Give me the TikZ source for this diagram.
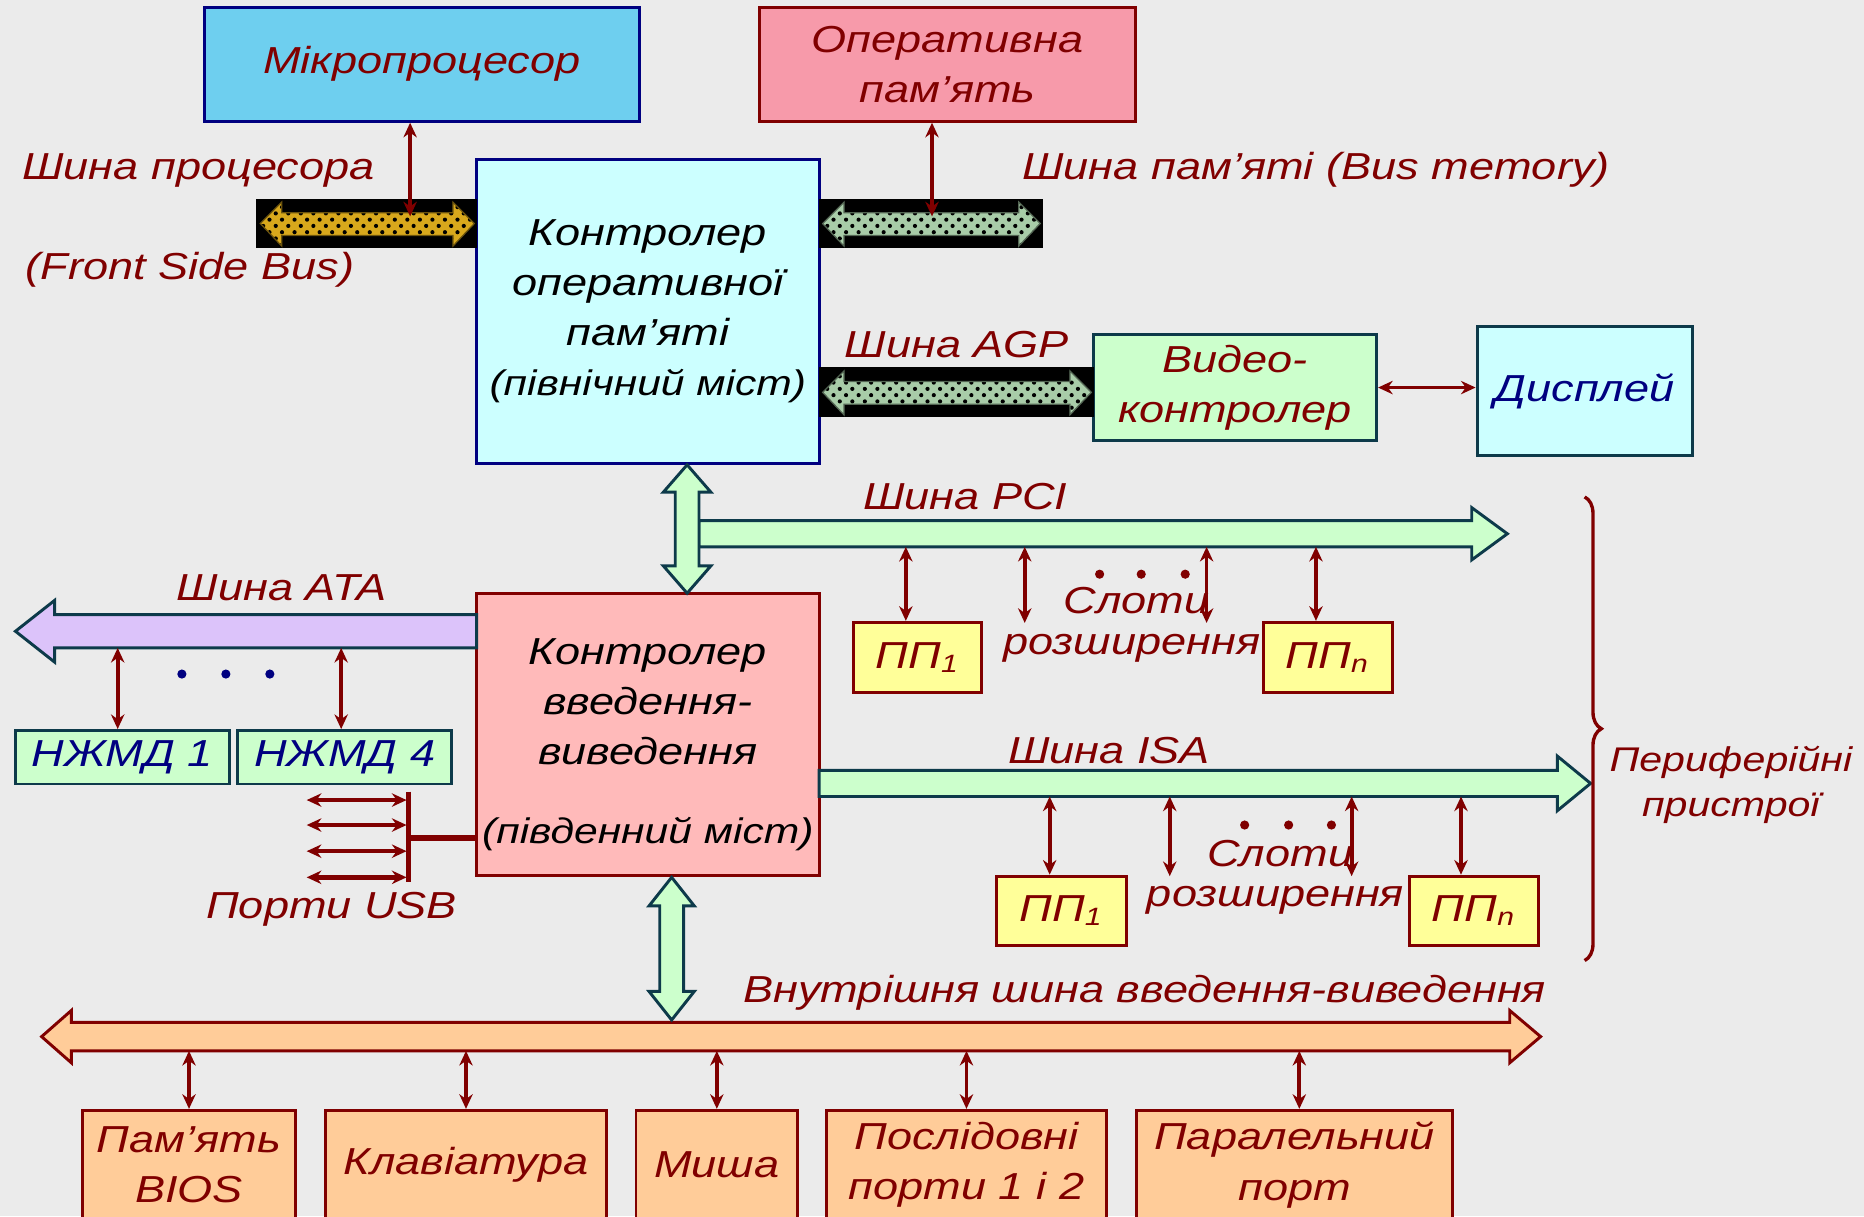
\documentclass[tikz,border=0pt]{standalone}
\usepackage{fontspec}
\setmainfont{Liberation Sans}[FakeStretch=1.2]
\usetikzlibrary{arrows.meta,patterns,decorations.pathreplacing}

\definecolor{bgcol}{HTML}{EBEBEB}
\definecolor{txtred}{HTML}{800000}
\definecolor{navy}{HTML}{000080}
\definecolor{edgeteal}{HTML}{0D3A4A}
\definecolor{cpucol}{HTML}{6ECFEF}
\definecolor{ramcol}{HTML}{F79AAA}
\definecolor{nbcol}{HTML}{CCFFFF}
\definecolor{sbcol}{HTML}{FFBABA}
\definecolor{greencol}{HTML}{CCFFCC}
\definecolor{ppcol}{HTML}{FFFF99}
\definecolor{iocol}{HTML}{FFCC99}
\definecolor{atacol}{HTML}{DCC3FA}
\definecolor{fsbcol}{HTML}{D8A81C}
\definecolor{memcol}{HTML}{A8CCA8}

\tikzset{
  box/.style={draw=txtred, line width=0.7pt, text=txtred, align=center, inner sep=0pt,
    font=\fontsize{9}{12}\selectfont\itshape},
  lbl/.style={text=txtred, align=center, inner sep=0pt, font=\fontsize{9}{11}\selectfont\itshape},
  link/.style={draw=txtred, line width=0.9pt,
    {Stealth[length=3.5pt,width=3.2pt]}-{Stealth[length=3.5pt,width=3.2pt]}},
  fatbus/.style={draw=edgeteal, line width=0.7pt, fill=greencol, line join=miter},
  dotbus/.style={preaction={fill=#1}, pattern=crosshatch dots, pattern color=black,
    draw=#1!50!black, line width=0.3pt},
}

\begin{document}
\begin{tikzpicture}[x=0.1mm, y=-0.1mm]
    % Frame
    \useasboundingbox (0,0) rectangle (1568,1023);
    \clip (0,0) rectangle (1568,1023);
    \fill[bgcol] (0,0) rectangle (1568,1023);

    % Processor and memory
    \node[box, draw=navy, fill=cpucol, minimum width=3.66cm, minimum height=0.96cm] (cpu) at (355,54) {Мікропроцесор};
    \node[box, fill=ramcol, minimum width=3.17cm, minimum height=0.96cm] (ram) at (797,54) {Оперативна\\пам’ять};

    % North bridge
    \node[box, draw=navy, fill=nbcol, text=black, minimum width=2.88cm, minimum height=2.55cm] (nb) at (545,262)
        {Контролер\\оперативної\\пам’яті\\{\fontsize{8.5}{11}\selectfont (північний міст)}};

    % Video
    \node[box, draw=edgeteal, fill=greencol, minimum width=2.38cm, minimum height=0.89cm] (video) at (1039,326) {Видео-\\контролер};
    \node[box, draw=edgeteal, fill=nbcol, text=navy, minimum width=1.81cm, minimum height=1.09cm] (disp) at (1333,329) {Дисплей};

    % South bridge
    \node[box, fill=sbcol, text=black, minimum width=2.88cm, minimum height=2.37cm] (sb) at (545,618)
        {\rule{0pt}{0.39cm}Контролер\\введення-\\виведення\\[0.24cm]{\fontsize{8.5}{11}\selectfont (південний міст)}};

    % Hard disks
    \node[box, draw=edgeteal, fill=greencol, text=navy, minimum width=1.80cm, minimum height=0.45cm] (hdd1) at (103,637) {НЖМД 1};
    \node[box, draw=edgeteal, fill=greencol, text=navy, minimum width=1.80cm, minimum height=0.45cm] (hdd4) at (290,637) {НЖМД 4};

    % Expansion cards
    \node[box, fill=ppcol, minimum width=1.08cm, minimum height=0.59cm] (pci1) at (772,553) {ПП\textsubscript{1}};
    \node[box, fill=ppcol, minimum width=1.08cm, minimum height=0.59cm] (pcin) at (1117,553) {ПП\textsubscript{n}};
    \node[box, fill=ppcol, minimum width=1.09cm, minimum height=0.58cm] (isa1) at (893,766) {ПП\textsubscript{1}};
    \node[box, fill=ppcol, minimum width=1.09cm, minimum height=0.58cm] (isan) at (1240,766) {ПП\textsubscript{n}};

    % Devices on the internal bus
    \node[box, fill=iocol, minimum width=1.79cm, minimum height=0.92cm] (bios) at (159,980) {Пам’ять\\BIOS};
    \node[box, fill=iocol, minimum width=2.37cm, minimum height=0.92cm] (kbd) at (392,980) {Клавіатура};
    \node[box, fill=iocol, minimum width=1.36cm, minimum height=0.92cm] (mouse) at (603,980) {Миша};
    \node[box, fill=iocol, minimum width=2.36cm, minimum height=0.92cm] (serial) at (813,980) {Послідовні\\порти 1 і 2};
    \node[box, fill=iocol, minimum width=2.66cm, minimum height=0.92cm] (par) at (1089,980) {Паралельний\\порт};

    % Processor, memory and AGP buses
    \fill[black] (215,167) rectangle (401,209);
    \path[dotbus=fsbcol] (219,188) -- (237,170) -- (237,179) -- (381,179) -- (381,170) -- (399,188)
        -- (381,207) -- (381,198) -- (237,198) -- (237,207) -- cycle;
    \fill[black] (689,167) rectangle (877,209);
    \path[dotbus=memcol] (692,188) -- (710,170) -- (710,179) -- (857,179) -- (857,170) -- (875,188)
        -- (857,207) -- (857,198) -- (710,198) -- (710,207) -- cycle;
    \fill[black] (689,309) rectangle (920,351);
    \path[dotbus=memcol] (692,330) -- (710,312) -- (710,321) -- (900,321) -- (900,312) -- (918,330)
        -- (900,349) -- (900,340) -- (710,340) -- (710,349) -- cycle;

    % PCI, ISA and ATA buses
    \draw[fatbus] (588,438) -- (1238,438) -- (1238,427) -- (1268,449) -- (1238,471) -- (1238,460) -- (588,460) -- cycle;
    \draw[fatbus] (578,391) -- (598,414) -- (588,414) -- (588,476) -- (598,476) -- (578,499)
        -- (558,476) -- (568,476) -- (568,414) -- (558,414) -- cycle;
    \draw[fatbus] (689,648) -- (1310,648) -- (1310,636) -- (1338,659) -- (1310,682) -- (1310,670) -- (689,670) -- cycle;
    \draw[fatbus, fill=atacol] (401,517) -- (46,517) -- (46,505) -- (13,531) -- (46,557) -- (46,545) -- (401,545) -- cycle;

    % Internal bus
    \draw[fatbus, draw=txtred, fill=iocol] (35,872) -- (60,850) -- (60,860) -- (1270,860) -- (1270,850) -- (1296,872)
        -- (1270,894) -- (1270,884) -- (60,884) -- (60,894) -- cycle;
    \draw[fatbus] (565,738) -- (584,762) -- (575,762) -- (575,834) -- (584,834) -- (565,858)
        -- (546,834) -- (555,834) -- (555,762) -- (546,762) -- cycle;

    % Bus edges
    \coordinate (fsbhub) at (345,182);
    \coordinate (memhub) at (784,182);
    \coordinate (atabot) at (0,545);
    \coordinate (pcibot) at (0,460);
    \coordinate (isabot) at (0,670);
    \coordinate (iobot) at (0,884);
    \coordinate (pcis1) at (862,524);
    \coordinate (pcis2) at (1015,524);
    \coordinate (isas1) at (984,737);
    \coordinate (isas2) at (1137,737);
    \coordinate (usbbar) at (344,705);

    % Links
    \draw[link] (cpu.south -| fsbhub) -- (fsbhub);
    \draw[link] (ram.south -| memhub) -- (memhub);
    \draw[link] (video.east) -- (disp.west |- video.east);

    \draw[link] ([xshift=-0.4mm]hdd1.north |- atabot) -- ([xshift=-0.4mm]hdd1.north);
    \draw[link] ([xshift=-0.3mm]hdd4.north |- atabot) -- ([xshift=-0.3mm]hdd4.north);

    \draw[link] ([xshift=-1mm]pci1.north |- pcibot) -- ([xshift=-1mm]pci1.north);
    \draw[link] (pcis1 |- pcibot) -- (pcis1);
    \draw[link] (pcis2 |- pcibot) -- (pcis2);
    \draw[link] ([xshift=-1mm]pcin.north |- pcibot) -- ([xshift=-1mm]pcin.north);

    \draw[link] ([xshift=-1mm]isa1.north |- isabot) -- ([xshift=-1mm]isa1.north);
    \draw[link] (isas1 |- isabot) -- (isas1);
    \draw[link] (isas2 |- isabot) -- (isas2);
    \draw[link] ([xshift=-1.1mm]isan.north |- isabot) -- ([xshift=-1.1mm]isan.north);

    \draw[link] (bios.north |- iobot) -- (bios.north);
    \draw[link] (kbd.north |- iobot) -- (kbd.north);
    \draw[link] (mouse.north |- iobot) -- (mouse.north);
    \draw[link] (serial.north |- iobot) -- (serial.north);
    \draw[link] ([xshift=0.4mm]par.north |- iobot) -- ([xshift=0.4mm]par.north);

    % USB ports
    \draw[txtred, line width=1.2pt] (344,666) -- (344,742);
    \draw[txtred, line width=1.5pt] (usbbar) -- (sb.west |- usbbar);
    \foreach \y in {673,694,716,738}
        \draw[link, line width=1.1pt] (258,\y) -- (342,\y);

    % Dots
    \foreach \x in {153,190,227} \fill[navy] (\x,567) circle (1.1pt);
    \foreach \x in {925,960,997} \fill[txtred] (\x,483) circle (1.1pt);
    \foreach \x in {1047,1084,1120} \fill[txtred] (\x,694) circle (1.1pt);

    % Brace
    \draw[txtred, line width=0.8pt, decorate, decoration={brace, amplitude=4pt}] (1333,418) -- (1333,808);

    % Labels
    \node[lbl] (fsblbl) at (167,143) {Шина процесора};
    \node[lbl] (fsbeng) at (160,227) {(Front Side Bus)};
    \node[lbl] (memlbl) at (1107,143) {Шина пам’яті (Bus memory)};
    \node[lbl] (agplbl) at (805,290) {Шина AGP};
    \node[lbl] (pcilbl) at (812,418) {Шина PCI};
    \node[lbl] (atalbl) at (237,494) {Шина ATA};
    \node[lbl] (isalbl) at (933,631) {Шина ISA};
    \node[lbl] (pcislot) at (956,505) {Слоти};
    \node[lbl] (pciext) at (952,545) {розширення};
    \node[lbl] (isaslot) at (1077,718) {Слоти};
    \node[lbl] (isaext) at (1073,757) {розширення};
    \node[lbl] (usblbl) at (279,765) {Порти USB};
    \node[lbl, font=\fontsize{8.2}{10.8}\selectfont\itshape] (perlbl) at (1456,660) {Периферійні\\пристрої};
    \node[lbl] (iolbl) at (963,835) {Внутрішня шина введення-виведення};

\end{tikzpicture}
\end{document}
